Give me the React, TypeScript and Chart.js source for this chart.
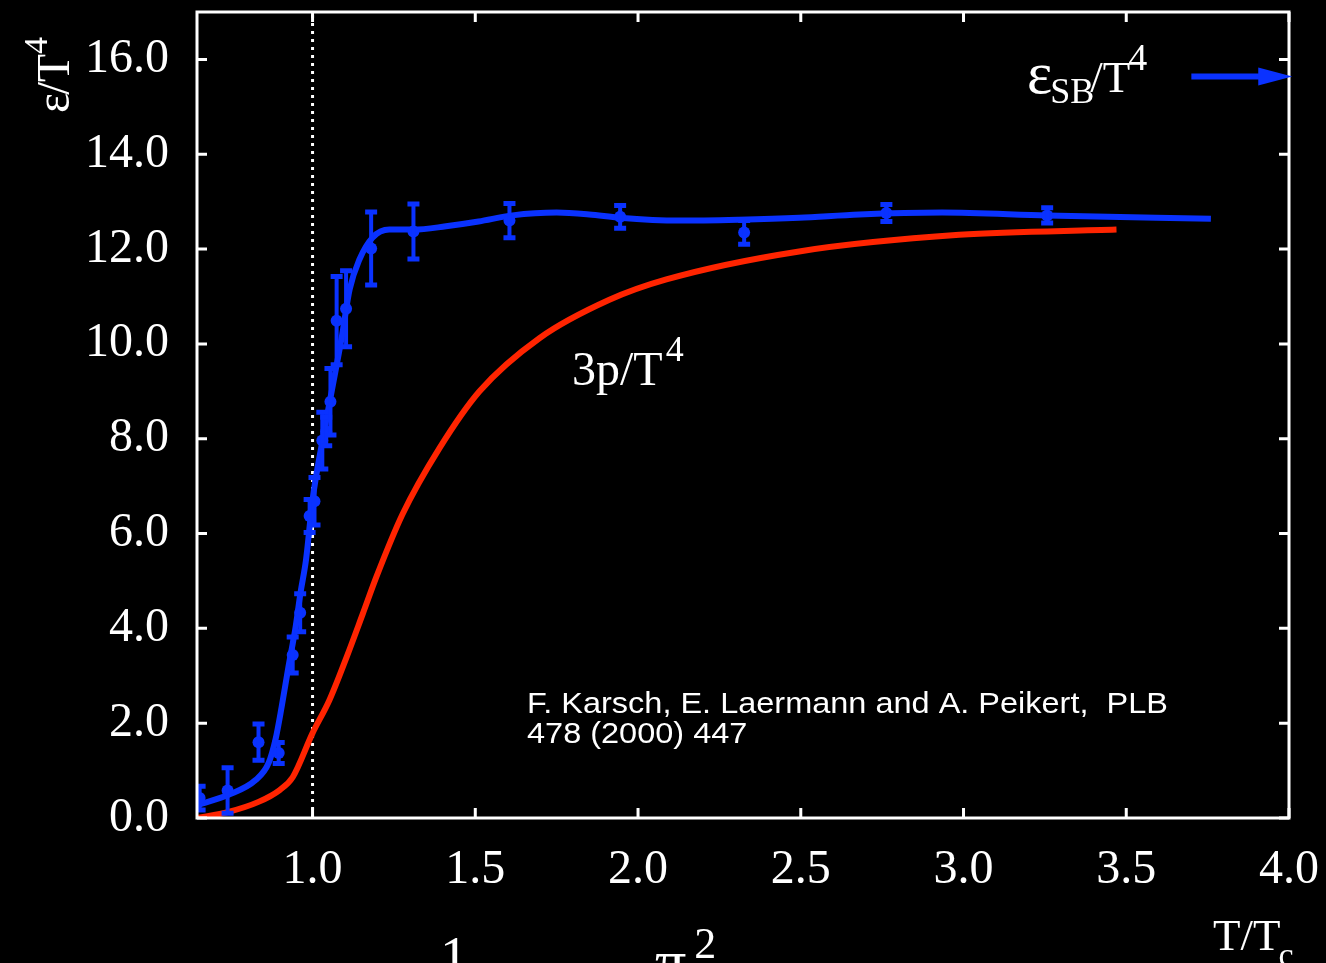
import React, { useEffect, useRef } from "react";
import { Chart, registerables } from "chart.js";

Chart.register(...registerables);

// ---- axis ticks ----
const X_TICKS = [1.0, 1.5, 2.0, 2.5, 3.0, 3.5, 4.0];
const Y_TICKS = [0, 2, 4, 6, 8, 10, 12, 14, 16];
const X_MIN = 0.645;
const X_MAX = 4.0;
const Y_MIN = 0;
const Y_MAX = 17;

// ---- lattice data: epsilon/T^4 with errors ----
const LAT_T = [0.653, 0.739, 0.834, 0.896, 0.939, 0.962, 0.991, 1.006, 1.03, 1.042, 1.055, 1.074, 1.103, 1.18, 1.31, 1.605, 1.945, 2.326, 2.763, 3.257];
const LAT_E = [0.42, 0.58, 1.6, 1.37, 3.44, 4.33, 6.37, 6.68, 7.96, 8.15, 8.78, 10.49, 10.74, 12.01, 12.37, 12.6, 12.68, 12.35, 12.76, 12.71];
const LAT_ERR = [0.25, 0.48, 0.38, 0.22, 0.38, 0.4, 0.35, 0.5, 0.6, 0.3, 0.7, 0.93, 0.8, 0.77, 0.58, 0.36, 0.24, 0.25, 0.18, 0.16];

// ---- smooth epsilon/T^4 curve ----
const EPS_T = [0.65, 0.742, 0.825, 0.865, 0.886, 0.905, 0.926, 0.948, 0.963, 0.98, 1.0, 1.031, 1.058, 1.09, 1.114, 1.144, 1.184, 1.236, 1.31, 1.41, 1.51, 1.614, 1.75, 1.85, 1.943, 2.127, 2.31, 2.495, 2.68, 2.934, 3.257, 3.76];
const EPS_V = [0.28, 0.49, 0.8, 1.16, 1.65, 2.34, 3.19, 4.03, 4.75, 5.45, 6.71, 7.98, 8.97, 10.15, 11.15, 11.78, 12.24, 12.41, 12.41, 12.48, 12.58, 12.71, 12.77, 12.73, 12.66, 12.6, 12.62, 12.66, 12.73, 12.77, 12.71, 12.64];

// ---- 3p/T^4 curve ----
const P3_T = [0.645, 0.742, 0.834, 0.899, 0.939, 1.0, 1.052, 1.105, 1.154, 1.197, 1.276, 1.39, 1.513, 1.697, 1.912, 2.087, 2.495, 2.987, 3.47];
const P3_V = [0.0, 0.13, 0.34, 0.59, 0.86, 1.79, 2.49, 3.4, 4.3, 5.1, 6.4, 7.8, 9.0, 10.12, 10.93, 11.36, 11.95, 12.3, 12.41];

// ---- Stefan-Boltzmann limit arrow ----
const SB_LIMIT = 15.64;
const SB_ARROW_X = [3.7, 4.01];

const TC_LINE_X = 1.0;

const BLUE = "#0a32ff";
const RED = "#ff2400";
const SERIF = '"Liberation Serif", "Times New Roman", serif';
const SANS = '"Liberation Sans", Arial, sans-serif';

const framePlugin = {
  id: "frame",
  afterDatasetsDraw(chart: any) {
    const { ctx, chartArea: a, scales } = chart;
    const xs = scales.x, ys = scales.y;
    ctx.save();
    // error bars
    ctx.beginPath();
    ctx.rect(a.left, a.top, a.right - a.left, a.bottom - a.top);
    ctx.clip();
    ctx.strokeStyle = BLUE;
    for (let i = 0; i < LAT_T.length; i++) {
      const px = xs.getPixelForValue(LAT_T[i]);
      const top = ys.getPixelForValue(LAT_E[i] + LAT_ERR[i]);
      const bot = ys.getPixelForValue(LAT_E[i] - LAT_ERR[i]);
      ctx.lineWidth = 4;
      ctx.beginPath();
      ctx.moveTo(px, top);
      ctx.lineTo(px, bot);
      ctx.stroke();
      ctx.lineWidth = 5;
      ctx.beginPath();
      ctx.moveTo(px - 6, top);
      ctx.lineTo(px + 6, top);
      ctx.moveTo(px - 6, bot);
      ctx.lineTo(px + 6, bot);
      ctx.stroke();
    }
    ctx.restore();

    ctx.save();
    // frame
    ctx.strokeStyle = "#ffffff";
    ctx.lineWidth = 3;
    ctx.strokeRect(a.left, a.top, a.right - a.left, a.bottom - a.top);
    const tl = 10;
    ctx.beginPath();
    X_TICKS.forEach((v) => {
      const px = xs.getPixelForValue(v);
      ctx.moveTo(px, a.bottom);
      ctx.lineTo(px, a.bottom - tl);
      ctx.moveTo(px, a.top);
      ctx.lineTo(px, a.top + tl);
    });
    Y_TICKS.forEach((v) => {
      const py = ys.getPixelForValue(v);
      ctx.moveTo(a.left, py);
      ctx.lineTo(a.left + tl, py);
      ctx.moveTo(a.right, py);
      ctx.lineTo(a.right - tl, py);
    });
    ctx.stroke();

    // SB arrow
    const y0 = ys.getPixelForValue(SB_LIMIT);
    const x0 = xs.getPixelForValue(SB_ARROW_X[0]);
    const x1 = xs.getPixelForValue(SB_ARROW_X[1]);
    ctx.strokeStyle = BLUE;
    ctx.fillStyle = BLUE;
    ctx.lineWidth = 6;
    ctx.beginPath();
    ctx.moveTo(x0, y0);
    ctx.lineTo(x1 - 30, y0);
    ctx.stroke();
    ctx.beginPath();
    ctx.moveTo(x1 - 34, y0 - 9);
    ctx.lineTo(x1, y0);
    ctx.lineTo(x1 - 34, y0 + 9);
    ctx.closePath();
    ctx.fill();
    ctx.restore();
  },
  afterDraw(chart: any) {
    const ctx = chart.ctx;
    ctx.save();
    ctx.fillStyle = "#ffffff";
    ctx.textAlign = "left";
    ctx.textBaseline = "alphabetic";
    const seg = (t: string, x: number, y: number, size: number, font = SERIF, sx = 1) => {
      ctx.font = `${size}px ${font}`;
      ctx.save();
      ctx.translate(x, y);
      ctx.scale(sx, 1);
      ctx.fillText(t, 0, 0);
      ctx.restore();
      return x + ctx.measureText(t).width * sx;
    };
    // epsilon_SB / T^4
    let x = seg("ε", 1027, 93, 60);
    x = seg("SB", x - 2, 103, 36);
    x = seg("/T", x - 4, 92, 45);
    seg("4", x - 2, 70, 38);
    // 3p/T^4
    x = seg("3p/T", 572, 385, 48);
    seg("4", x + 3, 361, 36);
    // citation
    seg("F. Karsch, E. Laermann and A. Peikert,  PLB", 527, 713, 29, SANS, 1.12);
    seg("478 (2000) 447", 527, 743, 29, SANS, 1.12);
    // T/Tc
    x = seg("T/T", 1213, 950, 45);
    seg("c", x - 2, 966, 34);
    // partial formula at the bottom
    seg("1", 440, 976, 56);
    x = seg("π", 655, 982, 62);
    seg("2", x + 8, 958, 44);
    // y-axis title (rotated)
    ctx.translate(69, 113);
    ctx.rotate(-Math.PI / 2);
    x = seg("ε", 0, 0, 48);
    x = seg("/T", x - 2, 0, 46);
    seg("4", x, -22, 34);
    ctx.restore();
  },
};

const zeroPad = (s: any) => {
  s.paddingTop = 0;
  s.paddingBottom = 0;
  s.paddingLeft = 0;
  s.paddingRight = 0;
};

export default function App() {
  const ref = useRef<HTMLCanvasElement>(null);
  useEffect(() => {
    if (!ref.current) return;
    const pts = (xs: number[], ys: number[]) => xs.map((v, i) => ({ x: v, y: ys[i] }));
    const chart = new Chart(ref.current, {
      type: "line",
      data: {
        datasets: [
          {
            type: "scatter",
            data: pts(LAT_T, LAT_E),
            showLine: false,
            pointRadius: 6,
            pointBackgroundColor: BLUE,
            pointBorderWidth: 0,
            order: 0,
          } as any,
          {
            data: pts(EPS_T, EPS_V),
            borderColor: BLUE,
            borderWidth: 6,
            pointRadius: 0,
            cubicInterpolationMode: "monotone",
            order: 1,
          },
          {
            data: pts(P3_T, P3_V),
            borderColor: RED,
            borderWidth: 6,
            pointRadius: 0,
            cubicInterpolationMode: "monotone",
            order: 2,
          },
          {
            data: [
              { x: TC_LINE_X, y: Y_MIN },
              { x: TC_LINE_X, y: Y_MAX },
            ],
            borderColor: "#ffffff",
            borderWidth: 3,
            borderDash: [3, 5],
            pointRadius: 0,
            order: 3,
          },
        ],
      },
      options: {
        animation: false,
        responsive: false,
        maintainAspectRatio: false,
        layout: { padding: { top: 12, right: 37, left: 0, bottom: 0 } },
        plugins: { legend: { display: false }, tooltip: { enabled: false } },
        scales: {
          x: {
            type: "linear",
            min: X_MIN,
            max: X_MAX,
            grid: { display: false },
            border: { display: false },
            afterBuildTicks: (s: any) => {
              s.ticks = X_TICKS.map((v) => ({ value: v }));
            },
            afterFit: (s: any) => {
              s.height = 145;
              zeroPad(s);
            },
            ticks: {
              color: "#ffffff",
              font: { family: SERIF, size: 48 },
              padding: 16,
              maxRotation: 0,
              autoSkip: false,
              callback: (v: any) => Number(v).toFixed(1),
            },
          },
          y: {
            type: "linear",
            min: Y_MIN,
            max: Y_MAX,
            grid: { display: false },
            border: { display: false },
            afterBuildTicks: (s: any) => {
              s.ticks = Y_TICKS.map((v) => ({ value: v }));
            },
            afterFit: (s: any) => {
              s.width = 197;
              zeroPad(s);
            },
            ticks: {
              color: "#ffffff",
              font: { family: SERIF, size: 48 },
              padding: 20,
              autoSkip: false,
              callback: (v: any) => Number(v).toFixed(1),
            },
          },
        },
      },
      plugins: [framePlugin],
    });
    return () => chart.destroy();
  }, []);
  return (
    <div style={{ position: "fixed", left: 0, top: 0, width: 1326, height: 963, background: "#000", overflow: "hidden" }}>
      <canvas ref={ref} width={1326} height={963} style={{ display: "block" }} />
    </div>
  );
}
